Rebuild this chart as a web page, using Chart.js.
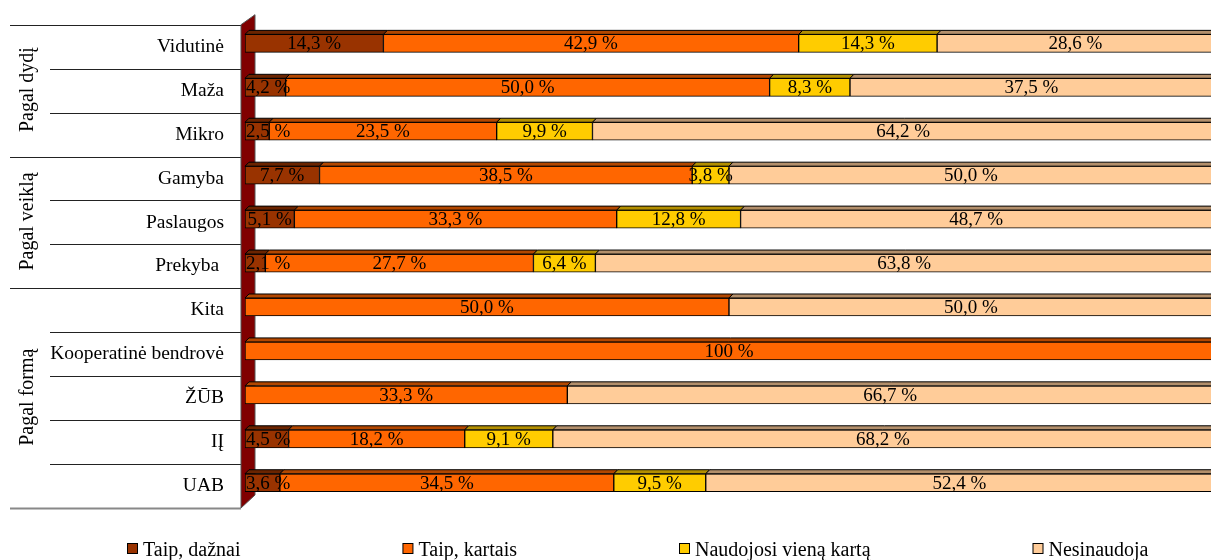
<!DOCTYPE html>
<html>
<head>
<meta charset="utf-8">
<title>Pagal dydį, veiklą ir formą</title>
<script src="https://cdn.jsdelivr.net/npm/chart.js@4.4.1/dist/chart.umd.min.js"></script>
<style>
  body { margin: 0; background: #fff; }
  canvas { display: block; }
</style>
</head>
<body>
<canvas id="barChart" width="1211" height="560"></canvas>
<script>
// categories, top to bottom ("Prekyba " keeps its trailing space like the original)
const categories = ["Vidutinė", "Maža", "Mikro", "Gamyba", "Paslaugos", "Prekyba ", "Kita", "Kooperatinė bendrovė", "ŽŪB", "IĮ", "UAB"];
const groupLabels = ["Pagal dydį", "Pagal veiklą", "Pagal formą"];
const groupStarts = [0, 3, 6];
const groupEnds = [2, 5, 10];

const seriesLabels = ["Taip, dažnai", "Taip, kartais", "Naudojosi vieną kartą", "Nesinaudoja"];
const taipDaznai = [14.3, 4.2, 2.5, 7.7, 5.1, 2.1, 0, 0, 0, 4.5, 3.6];
const taipKartais = [42.9, 50.0, 23.5, 38.5, 33.3, 27.7, 50.0, 100, 33.3, 18.2, 34.5];
const vienaKarta = [14.3, 8.3, 9.9, 3.8, 12.8, 6.4, 0, 0, 0, 9.1, 9.5];
const nesinaudoja = [28.6, 37.5, 64.2, 50.0, 48.7, 63.8, 50.0, 0, 66.7, 68.2, 52.4];

const colors = ["#993300", "#FF6600", "#FFCC00", "#FFCC99"];
const serif = "'Liberation Serif', 'Times New Roman', serif";

const depth = 4;   // 3d top face
const lift = 3.3;  // bars sit a bit above the row centre

function shade(hex, f) {
    const n = parseInt(hex.slice(1), 16);
    const r = Math.round(((n >> 16) & 255) * f);
    const g = Math.round(((n >> 8) & 255) * f);
    const b = Math.round((n & 255) * f);
    return `rgb(${r},${g},${b})`;
}

function fmt(v) {
    if (v === 100) return "100 %";
    return v.toFixed(1).replace(".", ",") + " %";
}

const excel3d = {
    id: "excel3d",
    beforeDatasetsDraw(chart) {
        const ctx = chart.ctx;
        const area = chart.chartArea;
        const rowH = (area.bottom - area.top) / categories.length;
        const wallLeft = area.left - 4;

        // row separators on the left
        ctx.save();
        for (let k = 0; k <= categories.length; k++) {
            const y = Math.round(area.top + k * rowH) + 0.5;
            const full = groupStarts.includes(k) || k === categories.length;
            ctx.beginPath();
            ctx.moveTo(full ? 10 : 50, y);
            ctx.lineTo(wallLeft, y);
            if (k === categories.length) {
                ctx.strokeStyle = "#888";
                ctx.lineWidth = 2;
            } else {
                ctx.strokeStyle = "#222";
                ctx.lineWidth = 1;
            }
            ctx.stroke();
        }

        // group titles
        ctx.fillStyle = "#000";
        ctx.font = `20px ${serif}`;
        ctx.textAlign = "center";
        ctx.textBaseline = "middle";
        groupLabels.forEach((label, g) => {
            const yMid = area.top + ((groupStarts[g] + groupEnds[g] + 1) / 2) * rowH;
            ctx.save();
            ctx.translate(28, yMid - 1);
            ctx.rotate(-Math.PI / 2);
            ctx.fillText(label, 0, 0);
            ctx.restore();
        });

        // the dark red side wall
        ctx.beginPath();
        ctx.moveTo(wallLeft, area.top);
        ctx.lineTo(wallLeft + 14, area.top - 10);
        ctx.lineTo(wallLeft + 14, area.bottom - 13);
        ctx.lineTo(wallLeft, area.bottom);
        ctx.closePath();
        ctx.fillStyle = "#800000";
        ctx.fill();
        ctx.strokeStyle = "#555";
        ctx.lineWidth = 1;
        ctx.stroke();
        ctx.restore();

        ctx.save();
        ctx.translate(0, -lift);
    },
    afterDatasetsDraw(chart) {
        const ctx = chart.ctx;
        const area = chart.chartArea;

        // top faces
        chart.data.datasets.forEach((ds, di) => {
            chart.getDatasetMeta(di).data.forEach((bar) => {
                const p = bar.getProps(["x", "y", "base", "height"], true);
                const left = Math.min(p.x, p.base);
                const right = Math.max(p.x, p.base);
                if (right - left < 0.5) return;
                const top = p.y - p.height / 2;
                ctx.beginPath();
                ctx.moveTo(left, top);
                ctx.lineTo(left + depth, top - depth);
                ctx.lineTo(right + depth, top - depth);
                ctx.lineTo(right, top);
                ctx.closePath();
                ctx.fillStyle = shade(colors[di], 0.7);
                ctx.fill();
                ctx.strokeStyle = "#000";
                ctx.lineWidth = 1;
                ctx.stroke();
            });
        });

        // value labels
        ctx.font = `19px ${serif}`;
        ctx.fillStyle = "#000";
        ctx.textAlign = "center";
        ctx.textBaseline = "middle";
        chart.data.datasets.forEach((ds, di) => {
            chart.getDatasetMeta(di).data.forEach((bar, i) => {
                const v = ds.data[i];
                if (!v) return;
                const p = bar.getProps(["x", "y", "base"], true);
                const text = fmt(v);
                const w = ctx.measureText(text).width;
                const x = Math.max((p.x + p.base) / 2, area.left + w / 2 + 1);
                ctx.fillText(text, x, p.y + 1);
            });
        });
        ctx.restore();
    },
    afterDraw(chart) {
        // legend along the bottom
        const ctx = chart.ctx;
        ctx.save();
        ctx.font = `20px ${serif}`;
        ctx.textAlign = "left";
        ctx.textBaseline = "alphabetic";
        let x = 127;
        chart.data.datasets.forEach((ds, di) => {
            ctx.fillStyle = colors[di];
            ctx.fillRect(x + 0.5, 543.5, 10, 10);
            ctx.strokeStyle = "#000";
            ctx.lineWidth = 1;
            ctx.strokeRect(x + 0.5, 543.5, 10, 10);
            ctx.fillStyle = "#000";
            ctx.fillText(ds.label, x + 16, 556);
            x += 16 + ctx.measureText(ds.label).width + 162;
        });
        ctx.restore();
    }
};

const barChart = document.getElementById("barChart");
new Chart(barChart, {
    type: "bar",
    data: {
        labels: categories,
        datasets: [taipDaznai, taipKartais, vienaKarta, nesinaudoja].map((values, i) => ({
            label: seriesLabels[i],
            data: values,
            backgroundColor: colors[i],
            borderColor: "#000",
            borderWidth: 1,
            borderSkipped: false,
            barThickness: 18
        }))
    },
    options: {
        indexAxis: "y",
        responsive: false,
        animation: false,
        layout: { padding: { top: 23, bottom: 52, left: 0, right: 0 } },
        plugins: {
            legend: { display: false },
            tooltip: { enabled: false }
        },
        scales: {
            // bars run a little past the right edge, as in the original
            x: { stacked: true, min: 0, max: 99.8, display: false },
            y: {
                stacked: true,
                grid: { display: false },
                border: { display: false },
                ticks: { color: "#000", font: { family: serif, size: 19.5 }, padding: 13 },
                afterFit(scale) { scale.width = 245; }
            }
        }
    },
    plugins: [excel3d]
});
</script>
</body>
</html>
